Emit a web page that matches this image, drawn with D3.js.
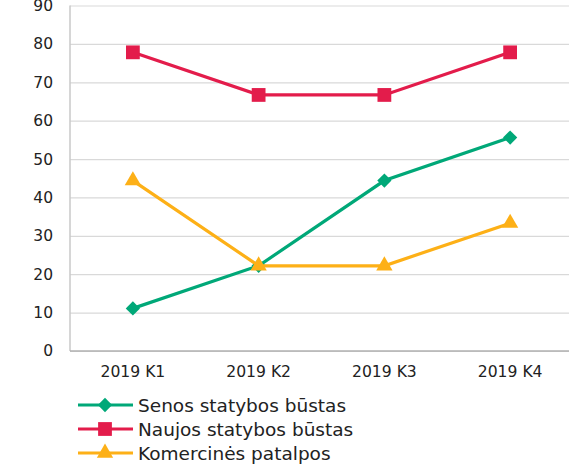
<!DOCTYPE html>
<html>
<head>
<meta charset="utf-8">
<script src="https://cdn.jsdelivr.net/npm/d3@7"></script>
<style>
  body { margin: 0; background: #fff; }
  svg text { font-family: Verdana, "DejaVu Sans", sans-serif; fill: #222; }
</style>
</head>
<body>
<svg id="chart" width="569" height="465"></svg>
<script>
// chart values
const quarters = ['2019 K1', '2019 K2', '2019 K3', '2019 K4'];
const yTicks = [0, 10, 20, 30, 40, 50, 60, 70, 80, 90];
const seriesNames = ['Senos statybos būstas', 'Naujos statybos būstas', 'Komercinės patalpos'];
const senos = [11.1, 22.2, 44.4, 55.6];
const naujos = [77.8, 66.7, 66.7, 77.8];
const komercines = [44.4, 22.2, 22.2, 33.3];

const colors = ['#00a878', '#e31c4b', '#fdb017'];
const shapes = [d3.symbolDiamond2, d3.symbolSquare, d3.symbolTriangle];
const sizes = [130, 190, 115];
const series = [senos, naujos, komercines].map((vals, i) => ({
    name: seriesNames[i], values: vals, color: colors[i], shape: shapes[i], size: sizes[i]
}));

const svg = d3.select('#chart');
const margin = {top: 5.5, left: 70, right: 0, bottom: 114};
const width = +svg.attr('width');
const height = +svg.attr('height');
const innerW = width - margin.left - margin.right;
const innerH = height - margin.top - margin.bottom;

const x = d3.scaleBand().domain(quarters).range([0, innerW + 4]);
const y = d3.scaleLinear().domain([0, 90]).range([innerH, 0]);

const g = svg.append('g').attr('transform', `translate(${margin.left},${margin.top})`);

// gridlines + y labels
const yAxis = g.append('g')
    .call(d3.axisLeft(y).tickValues(yTicks).tickSize(-innerW).tickPadding(17));
yAxis.select('.domain').remove();
yAxis.selectAll('.tick line').attr('stroke', '#d9d9d9').attr('stroke-width', 1.2);
yAxis.selectAll('.tick text').attr('font-size', 15.5).style('fill', '#222');

// left axis line and baseline
g.append('line').attr('x1', 0).attr('x2', 0).attr('y1', 0).attr('y2', innerH)
    .attr('stroke', '#c8c8c8').attr('stroke-width', 1.5);
g.append('line').attr('x1', 0).attr('x2', innerW).attr('y1', innerH).attr('y2', innerH)
    .attr('stroke', '#b0b0b0').attr('stroke-width', 1.5);

// x labels
const xAxis = g.append('g').attr('transform', `translate(0,${innerH})`)
    .call(d3.axisBottom(x).tickSize(0).tickPadding(15));
xAxis.select('.domain').remove();
xAxis.selectAll('.tick text').attr('font-size', 15.6).style('fill', '#222');

const cx = d => x(d) + x.bandwidth() / 2;
const line = d3.line().x((d, i) => cx(quarters[i])).y(d => y(d));

const sg = g.selectAll('.series').data(series).join('g').attr('class', 'series');
sg.append('path')
    .attr('d', d => line(d.values))
    .attr('fill', 'none')
    .attr('stroke', d => d.color)
    .attr('stroke-width', 3.2);
sg.each(function(s) {
    d3.select(this).selectAll('path.mark').data(s.values).join('path')
        .attr('class', 'mark')
        .attr('d', d3.symbol().type(s.shape).size(s.size))
        .attr('transform', (d, i) => `translate(${cx(quarters[i])},${y(d)})`)
        .attr('fill', s.color);
});

// legend
const lg = svg.append('g').attr('transform', 'translate(78,405)');
const item = lg.selectAll('g').data(series).join('g')
    .attr('transform', (d, i) => `translate(0,${i * 24})`);
item.append('line').attr('x1', 0).attr('x2', 55)
    .attr('stroke', d => d.color).attr('stroke-width', 3.2);
item.append('path')
    .attr('d', d => d3.symbol().type(d.shape).size(d.size)())
    .attr('transform', 'translate(27,0)')
    .attr('fill', d => d.color);
item.append('text').attr('x', 60).attr('dy', '0.36em')
    .attr('font-size', 18.5).text(d => d.name);
</script>
</body>
</html>
